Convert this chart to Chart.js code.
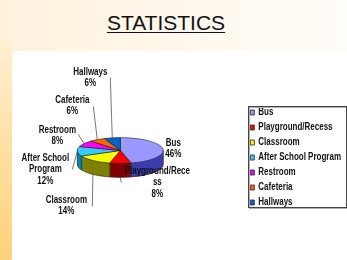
<!DOCTYPE html>
<html lang="en">
<head>
    <meta charset="UTF-8">
    <title>Statistics</title>
    <script src="https://cdn.jsdelivr.net/npm/chart.js"></script>
    <style>
        body {
            margin: 0;
            width: 347px;
            height: 260px;
            overflow: hidden;
            position: relative;
            background: linear-gradient(to right, #fff2dc 0%, #fff7ec 50%, #fffdf9 100%);
        }

        .strip {
            position: absolute;
            left: 0;
            top: 40px;
            width: 12px;
            bottom: 0;
            background: linear-gradient(to bottom, #fff0d4 0%, #ffdc98 60%, #ffd27c 100%);
        }

        .panel {
            position: absolute;
            left: 12px;
            top: 51px;
            right: 0;
            bottom: 0;
            background: #ffffff;
        }

        .title {
            position: absolute;
            left: 0;
            width: 332px;
            top: 11px;
            text-align: center;
            font-family: 'Liberation Sans', Arial, sans-serif;
            font-size: 21px;
            color: #111;
            text-decoration: underline;
            text-decoration-thickness: 1px;
            text-underline-offset: 2px;
        }

        #chart {
            position: absolute;
            left: 0;
            top: 0;
        }
    </style>
</head>
<body>
    <div class="strip"></div>
    <div class="panel"></div>
    <div class="title">STATISTICS</div>
    <canvas id="chart" width="351" height="260"></canvas>

    <script>
        const categories = ['Bus', 'Playground/Recess', 'Classroom', 'After School Program', 'Restroom', 'Cafeteria', 'Hallways'];
        const sliceLabels = ['Bus', 'Playground/Rece\nss', 'Classroom', 'After School\nProgram', 'Restroom', 'Cafeteria', 'Hallways'];
        const shares = [46, 8, 14, 12, 8, 6, 6];
        const topColors = ['#9999ff', '#ff0000', '#ffff00', '#33ccff', '#ff00ff', '#ff6600', '#0066cc'];
        const sideColors = ['#3c3cb0', '#800000', '#808000', '#0a86a8', '#990099', '#993300', '#003d80'];

        const labelFont = '"Liberation Sans", Arial, sans-serif';
        const narrow = 0.8; // the original type is a condensed bold

        // fake 3d: squash the pie and stack darker copies under it
        const tilt = 0.3;
        const depth = 14;

        // where each slice label sits, relative to the top face centre: text centre, leader start
        const labelLayout = [
            { dx: 53, dy: -2, lead: null },
            { dx: 37, dy: 32, lead: [1, 32] },
            { dx: -54, dy: 55, lead: [-28, 56] },
            { dx: -75, dy: 19, lead: [-48, 19] },
            { dx: -63, dy: -15, lead: [-42, -16] },
            { dx: -48, dy: -45, lead: [-27, -44] },
            { dx: -30, dy: -73, lead: [-10, -73] }
        ];

        function slicePath(ctx, p, cy, off) {
            ctx.save();
            ctx.translate(0, cy - depth / 2 + off);
            ctx.scale(1, tilt);
            ctx.translate(0, -cy);
            ctx.beginPath();
            ctx.moveTo(p.x, p.y);
            ctx.arc(p.x, p.y, p.outerRadius, p.startAngle, p.endAngle);
            ctx.closePath();
            ctx.restore();
        }

        function legendPivot(legend) {
            return Math.max(...legend.legendHitBoxes.map(b => b.left + b.width));
        }

        const pie3d = {
            id: 'pie3d',
            afterLayout(chart) {
                const legend = chart.legend;
                if (!legend || legend._narrowed) return;
                const orig = legend.draw;
                legend.draw = function (...args) {
                    const ctx = this.ctx;
                    const px = legendPivot(this);
                    ctx.save();
                    ctx.translate(px, 0);
                    ctx.scale(narrow, 1);
                    ctx.translate(-px, 0);
                    orig.apply(this, args);
                    ctx.restore();
                };
                legend._narrowed = true;
            },
            beforeDatasetsDraw(chart) {
                const ctx = chart.ctx;
                const arcs = chart.getDatasetMeta(0).data;
                const props = arcs.map(a => a.getProps(['x', 'y', 'startAngle', 'endAngle', 'outerRadius'], true));
                const cx = props[0].x, cy = props[0].y, r = props[0].outerRadius;
                const top = cy - depth / 2;

                for (let off = depth; off >= 1; off--) {
                    props.forEach((p, i) => {
                        slicePath(ctx, p, cy, off);
                        ctx.fillStyle = sideColors[i];
                        ctx.fill();
                    });
                }

                // side edges
                ctx.strokeStyle = '#222';
                ctx.lineWidth = 0.6;
                ctx.beginPath();
                ctx.ellipse(cx, top + depth, r, r * tilt, 0, 0, Math.PI);
                ctx.moveTo(cx + r, top);
                ctx.lineTo(cx + r, top + depth);
                ctx.moveTo(cx - r, top);
                ctx.lineTo(cx - r, top + depth);
                props.forEach(p => {
                    const a = p.startAngle;
                    if (Math.sin(a) > 0) {
                        const x = cx + r * Math.cos(a), y = top + r * tilt * Math.sin(a);
                        ctx.moveTo(x, y);
                        ctx.lineTo(x, y + depth);
                    }
                });
                ctx.stroke();

                props.forEach((p, i) => {
                    slicePath(ctx, p, cy, 0);
                    ctx.fillStyle = topColors[i];
                    ctx.fill();
                    ctx.strokeStyle = '#222';
                    ctx.lineWidth = 0.6;
                    ctx.stroke();
                });
                return false;
            },
            afterDraw(chart) {
                const ctx = chart.ctx;
                const arcs = chart.getDatasetMeta(0).data;
                const total = shares.reduce((s, v) => s + v, 0);
                const p0 = arcs[0].getProps(['x', 'y', 'outerRadius'], true);
                const cx = p0.x, top = p0.y - depth / 2, r = p0.outerRadius;

                ctx.save();
                ctx.font = 'bold 10px ' + labelFont;
                ctx.textAlign = 'center';
                ctx.textBaseline = 'middle';
                arcs.forEach((arc, i) => {
                    const p = arc.getProps(['startAngle', 'endAngle'], true);
                    const mid = (p.startAngle + p.endAngle) / 2;
                    const lay = labelLayout[i];
                    if (lay.lead) {
                        let ex = cx + r * Math.cos(mid);
                        let ey = top + r * tilt * Math.sin(mid);
                        if (Math.sin(mid) > 0.3) ey += depth;
                        ctx.strokeStyle = '#555';
                        ctx.lineWidth = 0.8;
                        ctx.beginPath();
                        ctx.moveTo(cx + lay.lead[0], top + lay.lead[1]);
                        ctx.lineTo(ex, ey);
                        ctx.stroke();
                    }
                    const lines = sliceLabels[i].split('\n');
                    lines.push(Math.round(shares[i] / total * 100) + '%');
                    const lh = 11.5;
                    const y0 = top + lay.dy - (lines.length - 1) * lh / 2;
                    ctx.fillStyle = '#111';
                    lines.forEach((t, j) => {
                        ctx.save();
                        ctx.translate(cx + lay.dx, y0 + j * lh);
                        ctx.scale(narrow, 1);
                        ctx.fillText(t, 0, 0);
                        ctx.restore();
                    });
                });

                // box round the legend (legend is drawn narrowed about its right edge)
                const boxes = chart.legend.legendHitBoxes;
                if (boxes && boxes.length) {
                    const px = legendPivot(chart.legend);
                    const sx = x => px + (x - px) * narrow;
                    const last = boxes[boxes.length - 1];
                    const l = sx(Math.min(...boxes.map(b => b.left))) - 2;
                    const t = boxes[0].top - 2;
                    const rr = px + 5;
                    const b = last.top + last.height - 1;
                    ctx.strokeStyle = '#b0b0b0';
                    ctx.lineWidth = 1;
                    ctx.strokeRect(Math.round(l) + 1.5, Math.round(t) + 1.5, Math.round(rr - l), Math.round(b - t));
                    ctx.strokeStyle = '#444';
                    ctx.strokeRect(Math.round(l) + 0.5, Math.round(t) + 0.5, Math.round(rr - l), Math.round(b - t));
                }
                ctx.restore();
            }
        };

        new Chart(document.getElementById('chart'), {
            type: 'pie',
            data: {
                labels: categories,
                datasets: [{
                    data: shares,
                    backgroundColor: topColors,
                    borderColor: '#333',
                    borderWidth: 1,
                    radius: 43
                }]
            },
            options: {
                responsive: false,
                animation: false,
                events: [],
                layout: {
                    padding: { top: 55, bottom: 0, left: 18, right: 0 }
                },
                plugins: {
                    title: { display: false },
                    tooltip: { enabled: false },
                    legend: {
                        position: 'right',
                        labels: {
                            boxWidth: 5,
                            boxHeight: 5,
                            padding: 5,
                            color: '#111',
                            font: { family: labelFont, size: 10, weight: 'bold' }
                        }
                    }
                }
            },
            plugins: [pie3d]
        });
    </script>
</body>
</html>
